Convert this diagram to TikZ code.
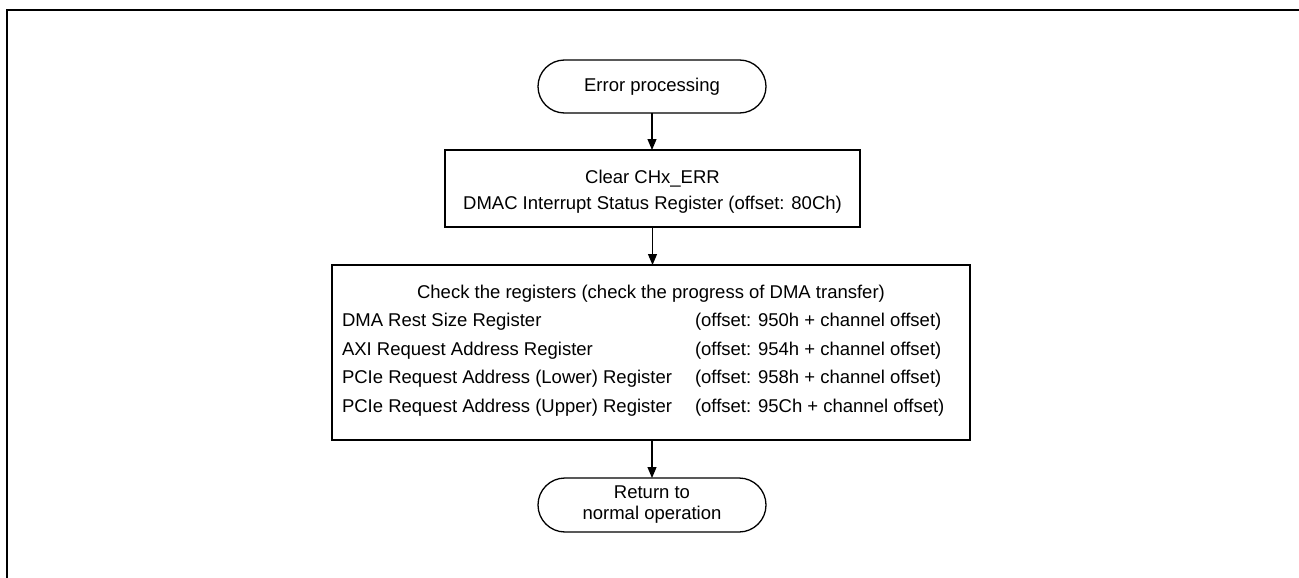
\documentclass[tikz,border=0pt]{standalone}
\usepackage{fontspec}
\setmainfont{Liberation Sans}
\usetikzlibrary{shapes.misc,arrows.meta}
\begin{document}
\begin{tikzpicture}[x=1pt,y=-1pt,
  every node/.style={font=\fontsize{18.5}{21}\selectfont, inner sep=0pt, outer sep=0pt},
  term/.style={draw, line width=1.3pt, rounded rectangle, minimum width=228pt, minimum height=53pt, align=center},
  procbox/.style={draw, line width=1.3pt, rectangle},
  txt/.style={anchor=base},
  txtl/.style={anchor=base west},
  flow/.style={line width=1.2pt, -{Triangle[width=9pt,length=11pt]}}
]
\useasboundingbox (0,0) rectangle (1299,578);
\draw[line width=2pt] (6.5,578) -- (6.5,10) -- (1299,10);

\node[term] (t1) at (652,86.5) {Error processing};

\node[procbox, minimum width=415pt, minimum height=77pt] (b2) at (652.5,188.5) {};
\node[txt] (b2a) at (652.5,183) {Clear CHx\_ERR};
\node[txt] (b2b) at (652.5,209) {DMAC Interrupt Status Register (offset: 80Ch)};

\node[procbox, minimum width=638pt, minimum height=175pt] (b3) at (651,352.5) {};
\node[txt] (b3h) at (651,298) {Check the registers (check the progress of DMA transfer)};
\node[txtl] (r1) at (342,326.5) {DMA Rest Size Register};
\node[txtl] (r2) at (342,355) {AXI Request Address Register};
\node[txtl] (r3) at (342,383.5) {PCIe Request Address (Lower) Register};
\node[txtl] (r4) at (342,412) {PCIe Request Address (Upper) Register};
\node[txtl] (o1) at (695,326.5) {(offset: 950h + channel offset)};
\node[txtl] (o2) at (695,355) {(offset: 954h + channel offset)};
\node[txtl] (o3) at (695,383.5) {(offset: 958h + channel offset)};
\node[txtl] (o4) at (695,412) {(offset: 95Ch + channel offset)};

\node[term, minimum height=54pt] (t2) at (652,505) {Return to\\normal operation};

\draw[flow] (t1.south) -- (b2.north -| t1.south);
\draw[flow] (b2.south) -- (b3.north -| b2.south);
\draw[flow] (b3.south -| t2.north) -- (t2.north);
\end{tikzpicture}
\end{document}
